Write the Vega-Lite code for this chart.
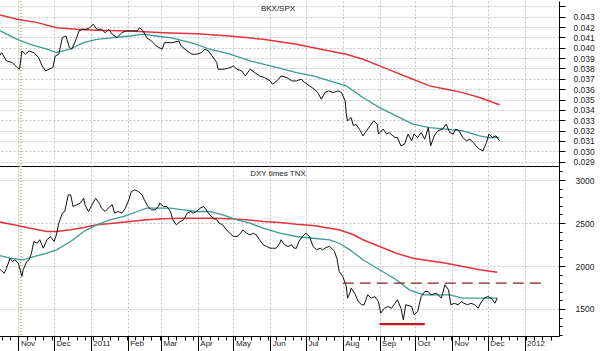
{
  "$schema": "https://vega.github.io/schema/vega-lite/v6.json",
  "padding": {"left": -6, "top": 0, "right": 0, "bottom": 0},
  "background": "white",
  "spacing": 0,
  "bounds": "flush",
  "config": {
    "view": {"stroke": null},
    "axis": {"labelFont": "Liberation Sans", "labelColor": "#222", "domainColor": "#000", "tickColor": "#000", "gridColor": "#c4c4c4", "gridDash": [2, 2]},
    "title": {"font": "Liberation Sans", "fontSize": 8, "fontWeight": "normal", "color": "#222"}
  },
  "datasets": {
    "events": [{"date": "2010-11-03"}],
    "levels": [
      {"date": "2011-08-01", "end": "2012-01-17", "value": 1800, "kind": "resistance"},
      {"date": "2011-09-01", "end": "2011-10-09", "value": 1325, "kind": "support"}
    ],
    "top": [
      {"date": "2010-10-14", "series": "price", "value": 0.03889},
      {"date": "2010-10-18", "series": "price", "value": 0.03953},
      {"date": "2010-10-22", "series": "price", "value": 0.03873},
      {"date": "2010-10-27", "series": "price", "value": 0.03857},
      {"date": "2010-10-31", "series": "price", "value": 0.03808},
      {"date": "2010-11-02", "series": "price", "value": 0.03793},
      {"date": "2010-11-04", "series": "price", "value": 0.03970},
      {"date": "2010-11-07", "series": "price", "value": 0.03938},
      {"date": "2010-11-10", "series": "price", "value": 0.03970},
      {"date": "2010-11-14", "series": "price", "value": 0.03953},
      {"date": "2010-11-18", "series": "price", "value": 0.03905},
      {"date": "2010-11-21", "series": "price", "value": 0.03825},
      {"date": "2010-11-24", "series": "price", "value": 0.03777},
      {"date": "2010-11-27", "series": "price", "value": 0.03793},
      {"date": "2010-11-30", "series": "price", "value": 0.03808},
      {"date": "2010-12-02", "series": "price", "value": 0.03921},
      {"date": "2010-12-05", "series": "price", "value": 0.03938},
      {"date": "2010-12-08", "series": "price", "value": 0.04098},
      {"date": "2010-12-11", "series": "price", "value": 0.04114},
      {"date": "2010-12-14", "series": "price", "value": 0.04001},
      {"date": "2010-12-16", "series": "price", "value": 0.03986},
      {"date": "2010-12-19", "series": "price", "value": 0.04066},
      {"date": "2010-12-22", "series": "price", "value": 0.04163},
      {"date": "2010-12-25", "series": "price", "value": 0.04179},
      {"date": "2010-12-28", "series": "price", "value": 0.04179},
      {"date": "2010-12-31", "series": "price", "value": 0.04194},
      {"date": "2011-01-03", "series": "price", "value": 0.04227},
      {"date": "2011-01-06", "series": "price", "value": 0.04179},
      {"date": "2011-01-10", "series": "price", "value": 0.04179},
      {"date": "2011-01-13", "series": "price", "value": 0.04146},
      {"date": "2011-01-16", "series": "price", "value": 0.04179},
      {"date": "2011-01-19", "series": "price", "value": 0.04131},
      {"date": "2011-01-23", "series": "price", "value": 0.04098},
      {"date": "2011-01-27", "series": "price", "value": 0.04146},
      {"date": "2011-01-31", "series": "price", "value": 0.04163},
      {"date": "2011-02-06", "series": "price", "value": 0.04163},
      {"date": "2011-02-09", "series": "price", "value": 0.04163},
      {"date": "2011-02-11", "series": "price", "value": 0.04194},
      {"date": "2011-02-14", "series": "price", "value": 0.04163},
      {"date": "2011-02-17", "series": "price", "value": 0.04098},
      {"date": "2011-02-21", "series": "price", "value": 0.04066},
      {"date": "2011-02-25", "series": "price", "value": 0.04018},
      {"date": "2011-03-02", "series": "price", "value": 0.03986},
      {"date": "2011-03-04", "series": "price", "value": 0.04050},
      {"date": "2011-03-09", "series": "price", "value": 0.04050},
      {"date": "2011-03-11", "series": "price", "value": 0.04050},
      {"date": "2011-03-16", "series": "price", "value": 0.04066},
      {"date": "2011-03-18", "series": "price", "value": 0.04018},
      {"date": "2011-03-23", "series": "price", "value": 0.03970},
      {"date": "2011-03-27", "series": "price", "value": 0.03938},
      {"date": "2011-03-31", "series": "price", "value": 0.03938},
      {"date": "2011-04-04", "series": "price", "value": 0.03953},
      {"date": "2011-04-07", "series": "price", "value": 0.03986},
      {"date": "2011-04-10", "series": "price", "value": 0.03970},
      {"date": "2011-04-13", "series": "price", "value": 0.03921},
      {"date": "2011-04-17", "series": "price", "value": 0.03857},
      {"date": "2011-04-18", "series": "price", "value": 0.03793},
      {"date": "2011-04-23", "series": "price", "value": 0.03793},
      {"date": "2011-04-28", "series": "price", "value": 0.03808},
      {"date": "2011-05-01", "series": "price", "value": 0.03825},
      {"date": "2011-05-04", "series": "price", "value": 0.03793},
      {"date": "2011-05-08", "series": "price", "value": 0.03777},
      {"date": "2011-05-11", "series": "price", "value": 0.03728},
      {"date": "2011-05-15", "series": "price", "value": 0.03793},
      {"date": "2011-05-19", "series": "price", "value": 0.03760},
      {"date": "2011-05-23", "series": "price", "value": 0.03728},
      {"date": "2011-05-27", "series": "price", "value": 0.03712},
      {"date": "2011-06-01", "series": "price", "value": 0.03680},
      {"date": "2011-06-03", "series": "price", "value": 0.03648},
      {"date": "2011-06-08", "series": "price", "value": 0.03696},
      {"date": "2011-06-10", "series": "price", "value": 0.03728},
      {"date": "2011-06-15", "series": "price", "value": 0.03712},
      {"date": "2011-06-19", "series": "price", "value": 0.03680},
      {"date": "2011-06-23", "series": "price", "value": 0.03680},
      {"date": "2011-06-27", "series": "price", "value": 0.03696},
      {"date": "2011-06-30", "series": "price", "value": 0.03664},
      {"date": "2011-07-04", "series": "price", "value": 0.03632},
      {"date": "2011-07-08", "series": "price", "value": 0.03600},
      {"date": "2011-07-11", "series": "price", "value": 0.03567},
      {"date": "2011-07-14", "series": "price", "value": 0.03503},
      {"date": "2011-07-17", "series": "price", "value": 0.03567},
      {"date": "2011-07-20", "series": "price", "value": 0.03584},
      {"date": "2011-07-24", "series": "price", "value": 0.03567},
      {"date": "2011-07-28", "series": "price", "value": 0.03584},
      {"date": "2011-07-31", "series": "price", "value": 0.03567},
      {"date": "2011-08-03", "series": "price", "value": 0.03487},
      {"date": "2011-08-04", "series": "price", "value": 0.03359},
      {"date": "2011-08-05", "series": "price", "value": 0.03294},
      {"date": "2011-08-08", "series": "price", "value": 0.03326},
      {"date": "2011-08-10", "series": "price", "value": 0.03246},
      {"date": "2011-08-12", "series": "price", "value": 0.03262},
      {"date": "2011-08-15", "series": "price", "value": 0.03214},
      {"date": "2011-08-18", "series": "price", "value": 0.03149},
      {"date": "2011-08-21", "series": "price", "value": 0.03198},
      {"date": "2011-08-24", "series": "price", "value": 0.03246},
      {"date": "2011-08-27", "series": "price", "value": 0.03294},
      {"date": "2011-08-30", "series": "price", "value": 0.03262},
      {"date": "2011-08-31", "series": "price", "value": 0.03166},
      {"date": "2011-09-04", "series": "price", "value": 0.03214},
      {"date": "2011-09-07", "series": "price", "value": 0.03166},
      {"date": "2011-09-09", "series": "price", "value": 0.03181},
      {"date": "2011-09-14", "series": "price", "value": 0.03133},
      {"date": "2011-09-16", "series": "price", "value": 0.03133},
      {"date": "2011-09-19", "series": "price", "value": 0.03053},
      {"date": "2011-09-22", "series": "price", "value": 0.03069},
      {"date": "2011-09-25", "series": "price", "value": 0.03166},
      {"date": "2011-09-28", "series": "price", "value": 0.03101},
      {"date": "2011-09-30", "series": "price", "value": 0.03166},
      {"date": "2011-10-03", "series": "price", "value": 0.03133},
      {"date": "2011-10-06", "series": "price", "value": 0.03181},
      {"date": "2011-10-09", "series": "price", "value": 0.03117},
      {"date": "2011-10-12", "series": "price", "value": 0.03229},
      {"date": "2011-10-14", "series": "price", "value": 0.03053},
      {"date": "2011-10-17", "series": "price", "value": 0.03149},
      {"date": "2011-10-20", "series": "price", "value": 0.03198},
      {"date": "2011-10-24", "series": "price", "value": 0.03214},
      {"date": "2011-10-27", "series": "price", "value": 0.03262},
      {"date": "2011-10-30", "series": "price", "value": 0.03181},
      {"date": "2011-11-02", "series": "price", "value": 0.03166},
      {"date": "2011-11-04", "series": "price", "value": 0.03214},
      {"date": "2011-11-07", "series": "price", "value": 0.03198},
      {"date": "2011-11-10", "series": "price", "value": 0.03133},
      {"date": "2011-11-13", "series": "price", "value": 0.03101},
      {"date": "2011-11-16", "series": "price", "value": 0.03117},
      {"date": "2011-11-19", "series": "price", "value": 0.03085},
      {"date": "2011-11-21", "series": "price", "value": 0.03053},
      {"date": "2011-11-24", "series": "price", "value": 0.03021},
      {"date": "2011-11-27", "series": "price", "value": 0.03005},
      {"date": "2011-11-30", "series": "price", "value": 0.03085},
      {"date": "2011-12-02", "series": "price", "value": 0.03166},
      {"date": "2011-12-05", "series": "price", "value": 0.03133},
      {"date": "2011-12-08", "series": "price", "value": 0.03149},
      {"date": "2011-12-11", "series": "price", "value": 0.03101},
      {"date": "2010-10-14", "series": "ma50", "value": 0.04179},
      {"date": "2010-10-31", "series": "ma50", "value": 0.04082},
      {"date": "2010-11-11", "series": "ma50", "value": 0.04034},
      {"date": "2010-11-25", "series": "ma50", "value": 0.03986},
      {"date": "2010-12-03", "series": "ma50", "value": 0.03953},
      {"date": "2010-12-14", "series": "ma50", "value": 0.03986},
      {"date": "2010-12-26", "series": "ma50", "value": 0.04050},
      {"date": "2011-01-06", "series": "ma50", "value": 0.04082},
      {"date": "2011-01-20", "series": "ma50", "value": 0.04098},
      {"date": "2011-02-03", "series": "ma50", "value": 0.04114},
      {"date": "2011-02-14", "series": "ma50", "value": 0.04131},
      {"date": "2011-02-25", "series": "ma50", "value": 0.04114},
      {"date": "2011-03-09", "series": "ma50", "value": 0.04098},
      {"date": "2011-03-20", "series": "ma50", "value": 0.04066},
      {"date": "2011-03-31", "series": "ma50", "value": 0.04034},
      {"date": "2011-04-11", "series": "ma50", "value": 0.03986},
      {"date": "2011-04-28", "series": "ma50", "value": 0.03938},
      {"date": "2011-05-15", "series": "ma50", "value": 0.03873},
      {"date": "2011-06-01", "series": "ma50", "value": 0.03825},
      {"date": "2011-06-12", "series": "ma50", "value": 0.03793},
      {"date": "2011-06-23", "series": "ma50", "value": 0.03760},
      {"date": "2011-07-07", "series": "ma50", "value": 0.03728},
      {"date": "2011-07-21", "series": "ma50", "value": 0.03680},
      {"date": "2011-08-04", "series": "ma50", "value": 0.03632},
      {"date": "2011-08-18", "series": "ma50", "value": 0.03519},
      {"date": "2011-09-01", "series": "ma50", "value": 0.03422},
      {"date": "2011-09-15", "series": "ma50", "value": 0.03342},
      {"date": "2011-09-29", "series": "ma50", "value": 0.03262},
      {"date": "2011-10-13", "series": "ma50", "value": 0.03229},
      {"date": "2011-10-27", "series": "ma50", "value": 0.03214},
      {"date": "2011-11-10", "series": "ma50", "value": 0.03198},
      {"date": "2011-11-24", "series": "ma50", "value": 0.03149},
      {"date": "2011-12-02", "series": "ma50", "value": 0.03133},
      {"date": "2011-12-11", "series": "ma50", "value": 0.03133},
      {"date": "2010-10-14", "series": "ma200", "value": 0.04324},
      {"date": "2010-10-31", "series": "ma200", "value": 0.04275},
      {"date": "2010-11-17", "series": "ma200", "value": 0.04243},
      {"date": "2010-12-03", "series": "ma200", "value": 0.04194},
      {"date": "2010-12-20", "series": "ma200", "value": 0.04179},
      {"date": "2011-01-06", "series": "ma200", "value": 0.04169},
      {"date": "2011-02-03", "series": "ma200", "value": 0.04163},
      {"date": "2011-03-03", "series": "ma200", "value": 0.04146},
      {"date": "2011-03-31", "series": "ma200", "value": 0.04136},
      {"date": "2011-04-28", "series": "ma200", "value": 0.04114},
      {"date": "2011-05-26", "series": "ma200", "value": 0.04082},
      {"date": "2011-06-23", "series": "ma200", "value": 0.04034},
      {"date": "2011-07-21", "series": "ma200", "value": 0.03970},
      {"date": "2011-08-04", "series": "ma200", "value": 0.03938},
      {"date": "2011-08-18", "series": "ma200", "value": 0.03889},
      {"date": "2011-09-01", "series": "ma200", "value": 0.03825},
      {"date": "2011-09-15", "series": "ma200", "value": 0.03760},
      {"date": "2011-09-29", "series": "ma200", "value": 0.03696},
      {"date": "2011-10-13", "series": "ma200", "value": 0.03632},
      {"date": "2011-10-27", "series": "ma200", "value": 0.03600},
      {"date": "2011-11-10", "series": "ma200", "value": 0.03567},
      {"date": "2011-11-24", "series": "ma200", "value": 0.03519},
      {"date": "2011-12-11", "series": "ma200", "value": 0.03449}
    ],
    "bottom": [
      {"date": "2010-10-14", "series": "price", "value": 1974},
      {"date": "2010-10-17", "series": "price", "value": 1956},
      {"date": "2010-10-20", "series": "price", "value": 1916},
      {"date": "2010-10-22", "series": "price", "value": 1974},
      {"date": "2010-10-25", "series": "price", "value": 2091},
      {"date": "2010-10-27", "series": "price", "value": 2052},
      {"date": "2010-10-29", "series": "price", "value": 2072},
      {"date": "2010-11-01", "series": "price", "value": 2033},
      {"date": "2010-11-04", "series": "price", "value": 1878},
      {"date": "2010-11-05", "series": "price", "value": 1956},
      {"date": "2010-11-08", "series": "price", "value": 2052},
      {"date": "2010-11-10", "series": "price", "value": 2072},
      {"date": "2010-11-12", "series": "price", "value": 2149},
      {"date": "2010-11-14", "series": "price", "value": 2285},
      {"date": "2010-11-17", "series": "price", "value": 2265},
      {"date": "2010-11-19", "series": "price", "value": 2305},
      {"date": "2010-11-22", "series": "price", "value": 2207},
      {"date": "2010-11-25", "series": "price", "value": 2305},
      {"date": "2010-11-28", "series": "price", "value": 2343},
      {"date": "2010-12-01", "series": "price", "value": 2285},
      {"date": "2010-12-03", "series": "price", "value": 2363},
      {"date": "2010-12-05", "series": "price", "value": 2498},
      {"date": "2010-12-08", "series": "price", "value": 2614},
      {"date": "2010-12-10", "series": "price", "value": 2634},
      {"date": "2010-12-13", "series": "price", "value": 2828},
      {"date": "2010-12-15", "series": "price", "value": 2828},
      {"date": "2010-12-17", "series": "price", "value": 2692},
      {"date": "2010-12-20", "series": "price", "value": 2712},
      {"date": "2010-12-23", "series": "price", "value": 2730},
      {"date": "2010-12-26", "series": "price", "value": 2788},
      {"date": "2010-12-27", "series": "price", "value": 2712},
      {"date": "2010-12-30", "series": "price", "value": 2634},
      {"date": "2011-01-02", "series": "price", "value": 2712},
      {"date": "2011-01-05", "series": "price", "value": 2788},
      {"date": "2011-01-08", "series": "price", "value": 2730},
      {"date": "2011-01-10", "series": "price", "value": 2672},
      {"date": "2011-01-13", "series": "price", "value": 2634},
      {"date": "2011-01-17", "series": "price", "value": 2692},
      {"date": "2011-01-19", "series": "price", "value": 2712},
      {"date": "2011-01-21", "series": "price", "value": 2614},
      {"date": "2011-01-24", "series": "price", "value": 2634},
      {"date": "2011-01-27", "series": "price", "value": 2614},
      {"date": "2011-01-30", "series": "price", "value": 2672},
      {"date": "2011-02-02", "series": "price", "value": 2770},
      {"date": "2011-02-04", "series": "price", "value": 2866},
      {"date": "2011-02-07", "series": "price", "value": 2886},
      {"date": "2011-02-10", "series": "price", "value": 2866},
      {"date": "2011-02-13", "series": "price", "value": 2828},
      {"date": "2011-02-15", "series": "price", "value": 2770},
      {"date": "2011-02-18", "series": "price", "value": 2692},
      {"date": "2011-02-21", "series": "price", "value": 2653},
      {"date": "2011-02-24", "series": "price", "value": 2653},
      {"date": "2011-02-27", "series": "price", "value": 2692},
      {"date": "2011-02-28", "series": "price", "value": 2730},
      {"date": "2011-03-03", "series": "price", "value": 2692},
      {"date": "2011-03-06", "series": "price", "value": 2692},
      {"date": "2011-03-09", "series": "price", "value": 2634},
      {"date": "2011-03-11", "series": "price", "value": 2537},
      {"date": "2011-03-14", "series": "price", "value": 2479},
      {"date": "2011-03-17", "series": "price", "value": 2517},
      {"date": "2011-03-20", "series": "price", "value": 2537},
      {"date": "2011-03-23", "series": "price", "value": 2614},
      {"date": "2011-03-26", "series": "price", "value": 2634},
      {"date": "2011-03-28", "series": "price", "value": 2614},
      {"date": "2011-03-31", "series": "price", "value": 2634},
      {"date": "2011-04-03", "series": "price", "value": 2672},
      {"date": "2011-04-06", "series": "price", "value": 2692},
      {"date": "2011-04-08", "series": "price", "value": 2653},
      {"date": "2011-04-11", "series": "price", "value": 2595},
      {"date": "2011-04-14", "series": "price", "value": 2556},
      {"date": "2011-04-17", "series": "price", "value": 2537},
      {"date": "2011-04-19", "series": "price", "value": 2498},
      {"date": "2011-04-22", "series": "price", "value": 2479},
      {"date": "2011-04-25", "series": "price", "value": 2421},
      {"date": "2011-04-28", "series": "price", "value": 2381},
      {"date": "2011-05-01", "series": "price", "value": 2343},
      {"date": "2011-05-04", "series": "price", "value": 2343},
      {"date": "2011-05-06", "series": "price", "value": 2363},
      {"date": "2011-05-09", "series": "price", "value": 2421},
      {"date": "2011-05-12", "series": "price", "value": 2381},
      {"date": "2011-05-15", "series": "price", "value": 2363},
      {"date": "2011-05-18", "series": "price", "value": 2381},
      {"date": "2011-05-20", "series": "price", "value": 2363},
      {"date": "2011-05-23", "series": "price", "value": 2305},
      {"date": "2011-05-26", "series": "price", "value": 2247},
      {"date": "2011-05-29", "series": "price", "value": 2227},
      {"date": "2011-06-01", "series": "price", "value": 2207},
      {"date": "2011-06-03", "series": "price", "value": 2207},
      {"date": "2011-06-06", "series": "price", "value": 2207},
      {"date": "2011-06-09", "series": "price", "value": 2265},
      {"date": "2011-06-10", "series": "price", "value": 2305},
      {"date": "2011-06-13", "series": "price", "value": 2247},
      {"date": "2011-06-16", "series": "price", "value": 2227},
      {"date": "2011-06-19", "series": "price", "value": 2247},
      {"date": "2011-06-21", "series": "price", "value": 2207},
      {"date": "2011-06-23", "series": "price", "value": 2207},
      {"date": "2011-06-25", "series": "price", "value": 2285},
      {"date": "2011-06-28", "series": "price", "value": 2343},
      {"date": "2011-07-01", "series": "price", "value": 2381},
      {"date": "2011-07-04", "series": "price", "value": 2343},
      {"date": "2011-07-07", "series": "price", "value": 2227},
      {"date": "2011-07-10", "series": "price", "value": 2188},
      {"date": "2011-07-13", "series": "price", "value": 2207},
      {"date": "2011-07-15", "series": "price", "value": 2188},
      {"date": "2011-07-18", "series": "price", "value": 2215},
      {"date": "2011-07-21", "series": "price", "value": 2227},
      {"date": "2011-07-24", "series": "price", "value": 2188},
      {"date": "2011-07-25", "series": "price", "value": 2169},
      {"date": "2011-07-27", "series": "price", "value": 2091},
      {"date": "2011-07-29", "series": "price", "value": 1936},
      {"date": "2011-08-01", "series": "price", "value": 1878},
      {"date": "2011-08-04", "series": "price", "value": 1762},
      {"date": "2011-08-05", "series": "price", "value": 1626},
      {"date": "2011-08-07", "series": "price", "value": 1684},
      {"date": "2011-08-08", "series": "price", "value": 1742},
      {"date": "2011-08-11", "series": "price", "value": 1684},
      {"date": "2011-08-14", "series": "price", "value": 1587},
      {"date": "2011-08-17", "series": "price", "value": 1549},
      {"date": "2011-08-19", "series": "price", "value": 1549},
      {"date": "2011-08-22", "series": "price", "value": 1665},
      {"date": "2011-08-25", "series": "price", "value": 1626},
      {"date": "2011-08-28", "series": "price", "value": 1645},
      {"date": "2011-08-31", "series": "price", "value": 1587},
      {"date": "2011-09-02", "series": "price", "value": 1451},
      {"date": "2011-09-05", "series": "price", "value": 1509},
      {"date": "2011-09-08", "series": "price", "value": 1529},
      {"date": "2011-09-11", "series": "price", "value": 1509},
      {"date": "2011-09-14", "series": "price", "value": 1567},
      {"date": "2011-09-16", "series": "price", "value": 1607},
      {"date": "2011-09-19", "series": "price", "value": 1509},
      {"date": "2011-09-21", "series": "price", "value": 1374},
      {"date": "2011-09-23", "series": "price", "value": 1549},
      {"date": "2011-09-28", "series": "price", "value": 1529},
      {"date": "2011-09-30", "series": "price", "value": 1433},
      {"date": "2011-10-03", "series": "price", "value": 1471},
      {"date": "2011-10-06", "series": "price", "value": 1645},
      {"date": "2011-10-09", "series": "price", "value": 1703},
      {"date": "2011-10-12", "series": "price", "value": 1703},
      {"date": "2011-10-14", "series": "price", "value": 1665},
      {"date": "2011-10-19", "series": "price", "value": 1684},
      {"date": "2011-10-23", "series": "price", "value": 1626},
      {"date": "2011-10-26", "series": "price", "value": 1781},
      {"date": "2011-10-29", "series": "price", "value": 1723},
      {"date": "2011-10-31", "series": "price", "value": 1549},
      {"date": "2011-11-03", "series": "price", "value": 1567},
      {"date": "2011-11-06", "series": "price", "value": 1549},
      {"date": "2011-11-09", "series": "price", "value": 1587},
      {"date": "2011-11-11", "series": "price", "value": 1567},
      {"date": "2011-11-14", "series": "price", "value": 1549},
      {"date": "2011-11-17", "series": "price", "value": 1567},
      {"date": "2011-11-20", "series": "price", "value": 1549},
      {"date": "2011-11-23", "series": "price", "value": 1509},
      {"date": "2011-11-25", "series": "price", "value": 1567},
      {"date": "2011-11-28", "series": "price", "value": 1626},
      {"date": "2011-12-01", "series": "price", "value": 1645},
      {"date": "2011-12-04", "series": "price", "value": 1626},
      {"date": "2011-12-07", "series": "price", "value": 1567},
      {"date": "2011-12-09", "series": "price", "value": 1626},
      {"date": "2010-10-14", "series": "ma50", "value": 2130},
      {"date": "2010-10-25", "series": "ma50", "value": 2091},
      {"date": "2010-11-05", "series": "ma50", "value": 2072},
      {"date": "2010-11-14", "series": "ma50", "value": 2110},
      {"date": "2010-11-25", "series": "ma50", "value": 2149},
      {"date": "2010-12-03", "series": "ma50", "value": 2188},
      {"date": "2010-12-15", "series": "ma50", "value": 2285},
      {"date": "2010-12-26", "series": "ma50", "value": 2401},
      {"date": "2011-01-06", "series": "ma50", "value": 2479},
      {"date": "2011-01-17", "series": "ma50", "value": 2537},
      {"date": "2011-01-29", "series": "ma50", "value": 2576},
      {"date": "2011-02-09", "series": "ma50", "value": 2634},
      {"date": "2011-02-17", "series": "ma50", "value": 2672},
      {"date": "2011-02-25", "series": "ma50", "value": 2672},
      {"date": "2011-03-09", "series": "ma50", "value": 2672},
      {"date": "2011-03-20", "series": "ma50", "value": 2653},
      {"date": "2011-03-31", "series": "ma50", "value": 2634},
      {"date": "2011-04-11", "series": "ma50", "value": 2634},
      {"date": "2011-04-22", "series": "ma50", "value": 2595},
      {"date": "2011-05-04", "series": "ma50", "value": 2537},
      {"date": "2011-05-15", "series": "ma50", "value": 2498},
      {"date": "2011-05-26", "series": "ma50", "value": 2440},
      {"date": "2011-06-09", "series": "ma50", "value": 2381},
      {"date": "2011-06-23", "series": "ma50", "value": 2343},
      {"date": "2011-07-07", "series": "ma50", "value": 2323},
      {"date": "2011-07-21", "series": "ma50", "value": 2305},
      {"date": "2011-07-29", "series": "ma50", "value": 2265},
      {"date": "2011-08-07", "series": "ma50", "value": 2188},
      {"date": "2011-08-18", "series": "ma50", "value": 2072},
      {"date": "2011-09-01", "series": "ma50", "value": 1956},
      {"date": "2011-09-15", "series": "ma50", "value": 1840},
      {"date": "2011-09-26", "series": "ma50", "value": 1723},
      {"date": "2011-10-08", "series": "ma50", "value": 1665},
      {"date": "2011-10-19", "series": "ma50", "value": 1665},
      {"date": "2011-10-30", "series": "ma50", "value": 1665},
      {"date": "2011-11-10", "series": "ma50", "value": 1626},
      {"date": "2011-11-24", "series": "ma50", "value": 1626},
      {"date": "2011-12-09", "series": "ma50", "value": 1626},
      {"date": "2010-10-14", "series": "ma200", "value": 2517},
      {"date": "2010-10-28", "series": "ma200", "value": 2479},
      {"date": "2010-11-11", "series": "ma200", "value": 2440},
      {"date": "2010-11-25", "series": "ma200", "value": 2401},
      {"date": "2010-12-03", "series": "ma200", "value": 2401},
      {"date": "2010-12-15", "series": "ma200", "value": 2421},
      {"date": "2010-12-26", "series": "ma200", "value": 2448},
      {"date": "2011-01-06", "series": "ma200", "value": 2479},
      {"date": "2011-01-20", "series": "ma200", "value": 2498},
      {"date": "2011-02-03", "series": "ma200", "value": 2517},
      {"date": "2011-02-17", "series": "ma200", "value": 2537},
      {"date": "2011-03-03", "series": "ma200", "value": 2549},
      {"date": "2011-03-17", "series": "ma200", "value": 2556},
      {"date": "2011-03-31", "series": "ma200", "value": 2556},
      {"date": "2011-04-14", "series": "ma200", "value": 2556},
      {"date": "2011-04-28", "series": "ma200", "value": 2549},
      {"date": "2011-05-12", "series": "ma200", "value": 2537},
      {"date": "2011-05-26", "series": "ma200", "value": 2517},
      {"date": "2011-06-09", "series": "ma200", "value": 2506},
      {"date": "2011-06-23", "series": "ma200", "value": 2486},
      {"date": "2011-07-07", "series": "ma200", "value": 2471},
      {"date": "2011-07-21", "series": "ma200", "value": 2440},
      {"date": "2011-07-29", "series": "ma200", "value": 2421},
      {"date": "2011-08-10", "series": "ma200", "value": 2363},
      {"date": "2011-08-18", "series": "ma200", "value": 2305},
      {"date": "2011-09-01", "series": "ma200", "value": 2227},
      {"date": "2011-09-15", "series": "ma200", "value": 2149},
      {"date": "2011-09-29", "series": "ma200", "value": 2091},
      {"date": "2011-10-13", "series": "ma200", "value": 2060},
      {"date": "2011-10-27", "series": "ma200", "value": 2033},
      {"date": "2011-11-10", "series": "ma200", "value": 1994},
      {"date": "2011-11-24", "series": "ma200", "value": 1956},
      {"date": "2011-12-09", "series": "ma200", "value": 1928}
    ]
  },
  "vconcat": [
    {
      "width": 562,
      "height": 165,
      "title": {"text": "BKX/SPX", "anchor": "middle", "frame": "group", "offset": -13},
      "encoding": {
        "x": {
          "field": "date", "type": "temporal",
          "scale": {"domain": ["2010-10-14", "2012-01-30"]},
          "axis": {
            "orient": "bottom", "labels": false, "ticks": false, "domain": true, "grid": true, "title": null,
            "values": ["2010-11-01","2010-12-01","2011-01-01","2011-02-01","2011-03-01","2011-04-01","2011-05-01","2011-06-01","2011-07-01","2011-08-01","2011-09-01","2011-10-01","2011-11-01","2011-12-01","2012-01-01"]
          }
        }
      },
      "layer": [
        {"data": {"name": "events"}, "mark": {"type": "rule", "color": "#b5c77a", "strokeWidth": 2, "strokeDash": [1, 2]}, "encoding": {}},
        {
          "data": {"name": "top"}, "transform": [{"filter": "datum.series == 'ma200'"}],
          "mark": {"type": "line", "color": "#e3343c", "strokeWidth": 1.5},
          "encoding": {"y": {"field": "value", "type": "quantitative", "scale": {"domain": [0.02858, 0.04452], "nice": false, "zero": false},
            "axis": {"orient": "right", "title": null, "values": [0.029,0.030,0.031,0.032,0.033,0.034,0.035,0.036,0.037,0.038,0.039,0.040,0.041,0.042,0.043,0.044],
              "labelExpr": "datum.value > 0.0435 ? '' : format(datum.value, '.3f')", "tickSize": 6, "labelPadding": 8, "labelFontSize": 8.5,
              "labelAlign": "left", "labelBaseline": "middle", "labelOverlap": false, "labelFlush": false, "grid": true}}}
        },
        {
          "data": {"name": "top"}, "transform": [{"filter": "datum.series == 'ma50'"}],
          "mark": {"type": "line", "color": "#3b9c95", "strokeWidth": 1.3},
          "encoding": {"y": {"field": "value", "type": "quantitative", "scale": {"domain": [0.02858, 0.04452], "nice": false, "zero": false},
            "axis": {"orient": "right", "title": null, "values": [0.029,0.030,0.031,0.032,0.033,0.034,0.035,0.036,0.037,0.038,0.039,0.040,0.041,0.042,0.043,0.044],
              "labelExpr": "datum.value > 0.0435 ? '' : format(datum.value, '.3f')", "tickSize": 6, "labelPadding": 8, "labelFontSize": 8.5,
              "labelAlign": "left", "labelBaseline": "middle", "labelOverlap": false, "labelFlush": false, "grid": true}}}
        },
        {
          "data": {"name": "top"}, "transform": [{"filter": "datum.series == 'price'"}],
          "mark": {"type": "line", "color": "#111111", "strokeWidth": 1},
          "encoding": {"y": {"field": "value", "type": "quantitative", "scale": {"domain": [0.02858, 0.04452], "nice": false, "zero": false},
            "axis": {"orient": "right", "title": null, "values": [0.029,0.030,0.031,0.032,0.033,0.034,0.035,0.036,0.037,0.038,0.039,0.040,0.041,0.042,0.043,0.044],
              "labelExpr": "datum.value > 0.0435 ? '' : format(datum.value, '.3f')", "tickSize": 6, "labelPadding": 8, "labelFontSize": 8.5,
              "labelAlign": "left", "labelBaseline": "middle", "labelOverlap": false, "labelFlush": false, "grid": true}}}
        }
      ]
    },
    {
      "width": 562,
      "height": 170,
      "title": {"text": "DXY times TNX", "anchor": "middle", "frame": "group", "offset": -13},
      "encoding": {
        "x": {
          "field": "date", "type": "temporal",
          "scale": {"domain": ["2010-10-14", "2012-01-30"]},
          "axis": {
            "orient": "bottom", "domain": true, "grid": true, "labelFontSize": 8, "title": null,
            "values": ["2010-10-18","2010-10-25","2010-11-01","2010-11-08","2010-11-15","2010-11-22","2010-11-29","2010-12-01","2010-12-06","2010-12-13","2010-12-20","2010-12-27","2011-01-01","2011-01-03","2011-01-10","2011-01-17","2011-01-24","2011-01-31","2011-02-01","2011-02-07","2011-02-14","2011-02-21","2011-02-28","2011-03-01","2011-03-07","2011-03-14","2011-03-21","2011-03-28","2011-04-01","2011-04-04","2011-04-11","2011-04-18","2011-04-25","2011-05-01","2011-05-02","2011-05-09","2011-05-16","2011-05-23","2011-05-30","2011-06-01","2011-06-06","2011-06-13","2011-06-20","2011-06-27","2011-07-01","2011-07-04","2011-07-11","2011-07-18","2011-07-25","2011-08-01","2011-08-08","2011-08-15","2011-08-22","2011-08-29","2011-09-01","2011-09-05","2011-09-12","2011-09-19","2011-09-26","2011-10-01","2011-10-03","2011-10-10","2011-10-17","2011-10-24","2011-10-31","2011-11-01","2011-11-07","2011-11-14","2011-11-21","2011-11-28","2011-12-01","2011-12-05","2011-12-12","2011-12-19","2011-12-26","2012-01-01","2012-01-02","2012-01-09","2012-01-16","2012-01-23"],
            "labelExpr": "utcdate(datum.value) == 1 ? (utcmonth(datum.value) == 0 ? utcFormat(datum.value, '%Y') : utcFormat(datum.value, '%b')) : ''",
            "tickSize": {"condition": {"test": "utcdate(datum.value) == 1", "value": 15}, "value": 4},
            "gridOpacity": {"condition": {"test": "utcdate(datum.value) == 1", "value": 1}, "value": 0},
            "labelAlign": "left", "labelBaseline": "top", "labelOffset": 2, "labelPadding": -12, "labelOverlap": false, "labelFlush": false
          }
        }
      },
      "layer": [
        {"data": {"name": "events"}, "mark": {"type": "rule", "color": "#b5c77a", "strokeWidth": 2, "strokeDash": [1, 2]}, "encoding": {}},
        {
          "data": {"name": "bottom"}, "transform": [{"filter": "datum.series == 'ma200'"}],
          "mark": {"type": "line", "color": "#e3343c", "strokeWidth": 1.5},
          "encoding": {"y": {"field": "value", "type": "quantitative", "scale": {"domain": [1186, 3163], "nice": false, "zero": false},
            "axis": {"orient": "right", "title": null, "values": [1200,1300,1400,1500,1600,1700,1800,1900,2000,2100,2200,2300,2400,2500,2600,2700,2800,2900,3000,3100],
              "labelExpr": "datum.value % 500 == 0 ? format(datum.value, 'd') : ''",
              "tickSize": {"condition": {"test": "datum.value % 500 == 0", "value": 6}, "value": 3},
              "gridOpacity": {"condition": {"test": "datum.value % 500 == 0", "value": 1}, "value": 0},
              "labelPadding": 10, "labelFontSize": 8.5, "labelAlign": "left", "labelBaseline": "middle", "labelOverlap": false, "labelFlush": false, "grid": true}}}
        },
        {
          "data": {"name": "bottom"}, "transform": [{"filter": "datum.series == 'ma50'"}],
          "mark": {"type": "line", "color": "#3b9c95", "strokeWidth": 1.3},
          "encoding": {"y": {"field": "value", "type": "quantitative", "scale": {"domain": [1186, 3163], "nice": false, "zero": false},
            "axis": {"orient": "right", "title": null, "values": [1200,1300,1400,1500,1600,1700,1800,1900,2000,2100,2200,2300,2400,2500,2600,2700,2800,2900,3000,3100],
              "labelExpr": "datum.value % 500 == 0 ? format(datum.value, 'd') : ''",
              "tickSize": {"condition": {"test": "datum.value % 500 == 0", "value": 6}, "value": 3},
              "gridOpacity": {"condition": {"test": "datum.value % 500 == 0", "value": 1}, "value": 0},
              "labelPadding": 10, "labelFontSize": 8.5, "labelAlign": "left", "labelBaseline": "middle", "labelOverlap": false, "labelFlush": false, "grid": true}}}
        },
        {
          "data": {"name": "bottom"}, "transform": [{"filter": "datum.series == 'price'"}],
          "mark": {"type": "line", "color": "#111111", "strokeWidth": 1},
          "encoding": {"y": {"field": "value", "type": "quantitative", "scale": {"domain": [1186, 3163], "nice": false, "zero": false},
            "axis": {"orient": "right", "title": null, "values": [1200,1300,1400,1500,1600,1700,1800,1900,2000,2100,2200,2300,2400,2500,2600,2700,2800,2900,3000,3100],
              "labelExpr": "datum.value % 500 == 0 ? format(datum.value, 'd') : ''",
              "tickSize": {"condition": {"test": "datum.value % 500 == 0", "value": 6}, "value": 3},
              "gridOpacity": {"condition": {"test": "datum.value % 500 == 0", "value": 1}, "value": 0},
              "labelPadding": 10, "labelFontSize": 8.5, "labelAlign": "left", "labelBaseline": "middle", "labelOverlap": false, "labelFlush": false, "grid": true}}}
        },
        {
          "data": {"name": "levels"}, "transform": [{"filter": "datum.kind == 'resistance'"}],
          "mark": {"type": "rule", "color": "#8e1c1c", "strokeWidth": 1.3, "strokeDash": [11, 6]},
          "encoding": {"x2": {"field": "end"}, "y": {"field": "value", "type": "quantitative", "scale": {"domain": [1186, 3163], "nice": false, "zero": false},
            "axis": {"orient": "right", "title": null, "values": [1200,1300,1400,1500,1600,1700,1800,1900,2000,2100,2200,2300,2400,2500,2600,2700,2800,2900,3000,3100],
              "labelExpr": "datum.value % 500 == 0 ? format(datum.value, 'd') : ''",
              "tickSize": {"condition": {"test": "datum.value % 500 == 0", "value": 6}, "value": 3},
              "gridOpacity": {"condition": {"test": "datum.value % 500 == 0", "value": 1}, "value": 0},
              "labelPadding": 10, "labelFontSize": 8.5, "labelAlign": "left", "labelBaseline": "middle", "labelOverlap": false, "labelFlush": false, "grid": true}}}
        },
        {
          "data": {"name": "levels"}, "transform": [{"filter": "datum.kind == 'support'"}],
          "mark": {"type": "rule", "color": "#c8141e", "strokeWidth": 2.2},
          "encoding": {"x2": {"field": "end"}, "y": {"field": "value", "type": "quantitative", "scale": {"domain": [1186, 3163], "nice": false, "zero": false},
            "axis": {"orient": "right", "title": null, "values": [1200,1300,1400,1500,1600,1700,1800,1900,2000,2100,2200,2300,2400,2500,2600,2700,2800,2900,3000,3100],
              "labelExpr": "datum.value % 500 == 0 ? format(datum.value, 'd') : ''",
              "tickSize": {"condition": {"test": "datum.value % 500 == 0", "value": 6}, "value": 3},
              "gridOpacity": {"condition": {"test": "datum.value % 500 == 0", "value": 1}, "value": 0},
              "labelPadding": 10, "labelFontSize": 8.5, "labelAlign": "left", "labelBaseline": "middle", "labelOverlap": false, "labelFlush": false, "grid": true}}}
        }
      ]
    }
  ]
}
